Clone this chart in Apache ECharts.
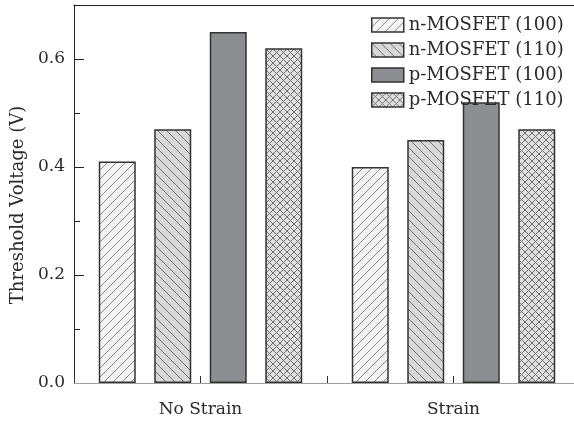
<!DOCTYPE html>
<html><head><meta charset="utf-8">
<script src="https://cdn.jsdelivr.net/npm/echarts@6/dist/echarts.min.js"></script>
<style>html,body{margin:0;padding:0;background:#fff}#c{width:574px;height:422px}</style>
</head><body><div id="c"></div>
<script>
const categories = ['No Strain', 'Strain'];
const seriesNames = ['n-MOSFET (100)', 'n-MOSFET (110)', 'p-MOSFET (100)', 'p-MOSFET (110)'];
const nMos100 = [0.41, 0.40];
const nMos110 = [0.47, 0.45];
const pMos100 = [0.65, 0.52];
const pMos110 = [0.62, 0.47];
const yMin = 0, yMax = 0.7, yMajor = 0.2, yMinor = 0.1;

const FONT = 'DejaVu Serif';
const TXT = '#2a2a2a';

function hatch(bg, fg, p, dirs) {
  const c = document.createElement('canvas');
  c.width = p; c.height = p;
  const g = c.getContext('2d');
  g.fillStyle = bg; g.fillRect(0, 0, p, p);
  g.strokeStyle = fg; g.lineWidth = 1;
  g.beginPath();
  dirs.forEach(d => {
    if (d === '/') {
      g.moveTo(-1, p + 1); g.lineTo(p + 1, -1);
      g.moveTo(-1, 1); g.lineTo(1, -1);
      g.moveTo(p - 1, p + 1); g.lineTo(p + 1, p - 1);
    } else {
      g.moveTo(-1, -1); g.lineTo(p + 1, p + 1);
      g.moveTo(p - 1, -1); g.lineTo(p + 1, 1);
      g.moveTo(-1, p - 1); g.lineTo(1, p + 1);
    }
  });
  g.stroke();
  return { image: c, repeat: 'repeat' };
}

const fills = [
  hatch('#f4f4f4', '#8a8a8a', 9, ['/']),
  hatch('#d8d8d8', '#707070', 9, ['\\']),
  '#8d8e92',
  hatch('#e0e0e0', '#707070', 7, ['/', '\\'])
];
const values = [nMos100, nMos110, pMos100, pMos110];

const chart = echarts.init(document.getElementById('c'), null, { renderer: 'canvas' });
chart.setOption({
  animation: false,
  backgroundColor: '#fff',
  grid: { left: 74, top: 5, width: 506, height: 378, outerBoundsMode: 'none', containLabel: false },
  legend: {
    orient: 'vertical', left: 366, top: 11,
    itemWidth: 32, itemHeight: 14, itemGap: 7, icon: 'rect',
    itemStyle: { borderColor: '#333', borderWidth: 1.5 },
    textStyle: { fontFamily: FONT, fontSize: 18, color: TXT, lineHeight: 18 },
    data: seriesNames
  },
  xAxis: [
    {
      type: 'category', data: categories, position: 'bottom', z: 5,
      axisLine: { show: true, lineStyle: { color: '#a0a0a0', width: 1 } },
      axisTick: { show: true, alignWithLabel: true, inside: true, length: 7, lineStyle: { color: '#333', width: 1 } },
      axisLabel: { fontFamily: FONT, fontSize: 17, color: TXT, margin: 18 },
      splitLine: { show: false }
    },
    {
      type: 'category', data: categories, position: 'bottom', z: 5,
      axisLine: { show: false },
      axisTick: { show: true, inside: true, length: 7, interval: 0, lineStyle: { color: '#333', width: 1 } },
      axisLabel: { show: false },
      splitLine: { show: false }
    },
    {
      type: 'category', data: categories, position: 'top',
      axisLine: { show: true, onZero: false, lineStyle: { color: '#222', width: 1 } },
      axisTick: { show: false }, axisLabel: { show: false }, splitLine: { show: false }
    }
  ],
  yAxis: [
    {
      type: 'value', min: yMin, max: yMax, interval: yMajor, position: 'left',
      name: 'Threshold Voltage (V)', nameLocation: 'middle', nameGap: 42,
      nameTextStyle: { fontFamily: FONT, fontSize: 18, color: TXT, padding: [0, 22, 0, 0] },
      axisLine: { show: true, lineStyle: { color: '#222', width: 1 } },
      axisTick: { show: true, inside: true, length: 10, lineStyle: { color: '#222', width: 1 } },
      axisLabel: { fontFamily: FONT, fontSize: 17, color: TXT, margin: 9, showMaxLabel: false,
                   formatter: v => v.toFixed(1) },
      splitLine: { show: false }
    },
    {
      type: 'value', min: yMin, max: yMax, interval: yMinor, position: 'left',
      axisLine: { show: false },
      axisTick: { show: true, inside: true, length: 6, lineStyle: { color: '#222', width: 1 } },
      axisLabel: { show: false }, splitLine: { show: false }
    }
  ],
  series: seriesNames.map((n, i) => ({
    name: n, type: 'bar', data: values[i], xAxisIndex: 0, yAxisIndex: 0,
    barWidth: 37, barGap: '50%',
    itemStyle: { color: fills[i], borderColor: '#333', borderWidth: 1.5 }
  }))
});
</script></body></html>
